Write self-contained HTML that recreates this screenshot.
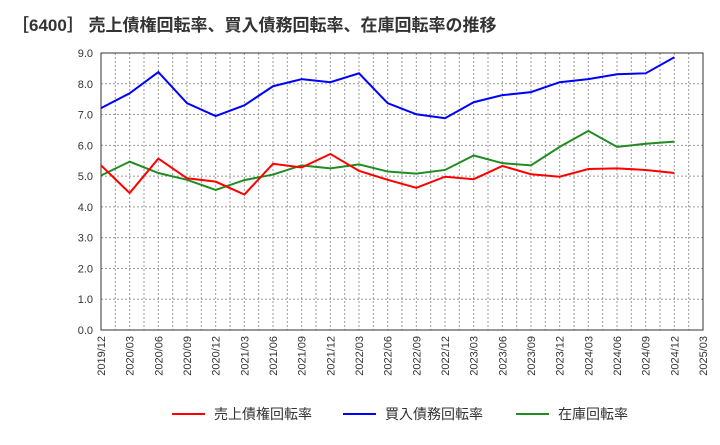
<!DOCTYPE html>
<html><head><meta charset="utf-8"><style>
body{margin:0;background:#fff;font-family:"Liberation Sans","Noto Sans CJK JP",sans-serif}
svg text{font-family:"Liberation Sans","Noto Sans CJK JP",sans-serif}
</style></head><body>
<svg id="c" width="720" height="440">
<text x="12" y="31" font-size="17" font-weight="bold" fill="#333">［6400］ 売上債権回転率、買入債務回転率、在庫回転率の推移</text>
</svg>
<script>
const categories=["2019/12","2020/03","2020/06","2020/09","2020/12","2021/03","2021/06","2021/09","2021/12","2022/03","2022/06","2022/09","2022/12","2023/03","2023/06","2023/09","2023/12","2024/03","2024/06","2024/09","2024/12","2025/03"];
const yTicks=[0,1,2,3,4,5,6,7,8,9];
const receivables=[5.35,4.45,5.57,4.93,4.82,4.4,5.4,5.28,5.72,5.17,4.88,4.62,4.98,4.9,5.33,5.06,4.98,5.23,5.25,5.2,5.1];
const payables=[7.21,7.69,8.38,7.37,6.95,7.3,7.92,8.15,8.05,8.34,7.37,7.01,6.88,7.4,7.63,7.73,8.05,8.15,8.31,8.34,8.86];
const inventory=[5.02,5.47,5.1,4.88,4.55,4.87,5.05,5.35,5.25,5.38,5.15,5.08,5.2,5.67,5.42,5.35,5.95,6.47,5.95,6.05,6.12];
const svg=document.getElementById('c');const NS='http://www.w3.org/2000/svg';
const L=101,R=703,T=53,B=330;
const x=i=>L+i*(R-L)/(categories.length-1);
const y=v=>B-v*(B-T)/9;
function mk(t,a){const e=document.createElementNS(NS,t);for(const k in a)e.setAttribute(k,a[k]);svg.appendChild(e);return e;}
for(let i=0;i<categories.length;i++){
 const g=mk('line',{x1:x(i),x2:x(i),y1:T,y2:B,stroke:'#999','stroke-dasharray':'2,2','stroke-width':1});
 
 
 if(i<categories.length-1){const g2=mk('line',{x1:(x(i)+x(i+1))/2,x2:(x(i)+x(i+1))/2,y1:T,y2:B,stroke:'#999','stroke-dasharray':'2,2','stroke-width':1});
 
 }
 const t=mk('text',{x:0,y:0,'font-size':11,fill:'#333','text-anchor':'end',transform:`translate(${x(i)+4},${B+6}) rotate(-90)`});
 t.textContent=categories[i];
 
 
}
yTicks.forEach(v=>{
 const g=mk('line',{x1:L,x2:R,y1:y(v),y2:y(v),stroke:'#999','stroke-dasharray':'2,2','stroke-width':1});
 
 
 const t=mk('text',{x:L-8,y:y(v)+4,'font-size':11,fill:'#333','text-anchor':'end'});
 t.textContent=v.toFixed(1);
 
 
});
const fr=mk('rect',{x:L,y:T,width:R-L,height:B-T,fill:'none',stroke:'#333','stroke-width':1});


function line(d,c,n){const p=mk('polyline',{points:d.map((v,i)=>x(i)+','+y(v)).join(' '),fill:'none',stroke:c,'stroke-width':2});
 
 }
line(inventory,'#228B22','inventory-turnover-line');
line(receivables,'#FF0000','receivables-turnover-line');
line(payables,'#0000FF','payables-turnover-line');
const leg=[['売上債権回転率','#FF0000',172],['買入債務回転率','#0000FF',343],['在庫回転率','#228B22',516]];
leg.forEach(([s,c,lx])=>{
 const l=mk('line',{x1:lx,x2:lx+33,y1:414,y2:414,stroke:c,'stroke-width':2});
 
 
 const t=mk('text',{x:lx+42,y:419,'font-size':14,fill:'#333'});
 t.textContent=s;
 
 
});
</script>
</body></html>
